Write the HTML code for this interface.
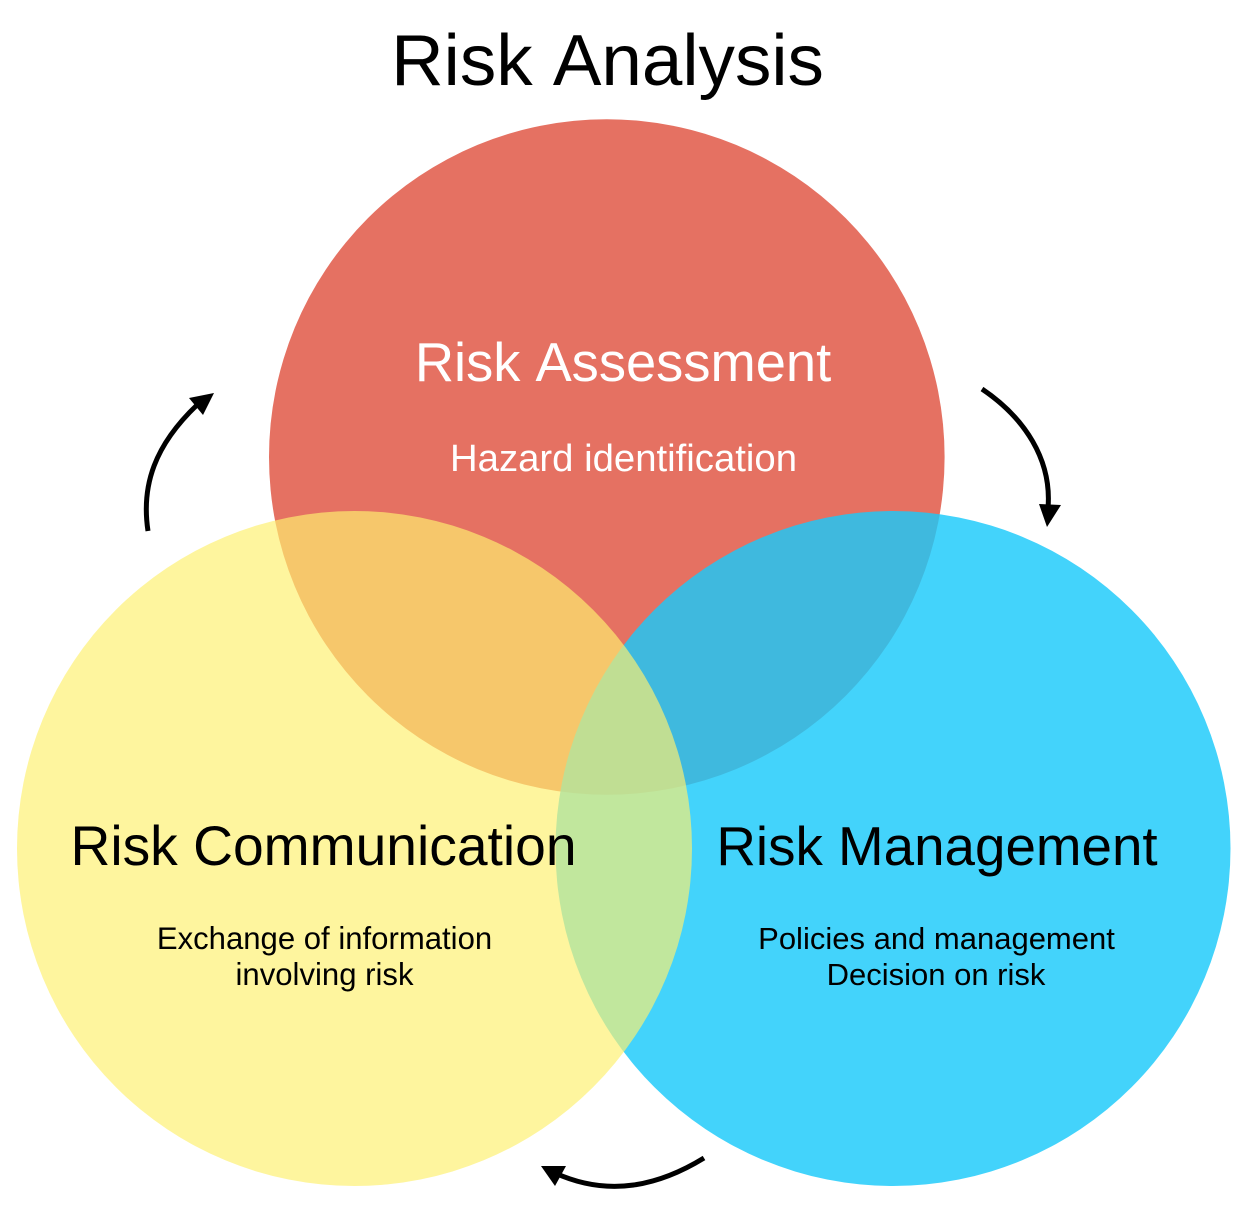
<!DOCTYPE html>
<html>
<head>
<meta charset="utf-8">
<title>Risk Analysis</title>
<style>
html,body{margin:0;padding:0;background:#fff;width:1248px;height:1232px;overflow:hidden}
svg{display:block}
text{font-family:"Liberation Sans",Arial,sans-serif;text-anchor:middle}
.nokern{font-kerning:none}
</style>
</head>
<body>
<svg width="1248" height="1232" viewBox="0 0 1248 1232" xmlns="http://www.w3.org/2000/svg">
  <rect x="0" y="0" width="1248" height="1232" fill="#fff"/>
  <circle cx="606.8" cy="457" r="337.8" fill="#E57162"/>
  <circle cx="893" cy="848.5" r="337.5" fill="rgb(26,201,250)" fill-opacity="0.82"/>
  <circle cx="354.5" cy="848.5" r="337.5" fill="rgb(254,240,112)" fill-opacity="0.68"/>

  <text class="nokern" x="607.5" y="85" font-size="72.8" fill="#000">Risk Analysis</text>

  <text class="nokern" x="623" y="381" font-size="54.3" fill="#fff">Risk Assessment</text>
  <text x="623.5" y="471" font-size="38.3" fill="#fff">Hazard identification</text>

  <text x="323.5" y="865" font-size="55.2" fill="#000">Risk Communication</text>
  <text x="324.5" y="949" font-size="31.1" fill="#000">Exchange of information</text>
  <text x="324.5" y="985" font-size="31.1" fill="#000">involving risk</text>

  <text x="937" y="865" font-size="54.75" fill="#000">Risk Management</text>
  <text x="936.5" y="949" font-size="31" fill="#000">Policies and management</text>
  <text x="936" y="985" font-size="31" fill="#000">Decision on risk</text>

  <g>
    <path d="M148 531 C141 485 155 445 197 405" fill="none" stroke="#000" stroke-width="5"/>
    <polygon points="214,393 189,398 203,415" fill="#000"/>
  </g>
  <g>
    <path d="M982 389 C1025 418 1052 460 1048 508" fill="none" stroke="#000" stroke-width="5"/>
    <polygon points="1039,504 1061,505 1047,527" fill="#000"/>
  </g>
  <g>
    <path d="M704 1158 C660 1185 610 1198 555 1173" fill="none" stroke="#000" stroke-width="5"/>
    <polygon points="541,1166 566,1166 555,1186" fill="#000"/>
  </g>
</svg>
</body>
</html>
